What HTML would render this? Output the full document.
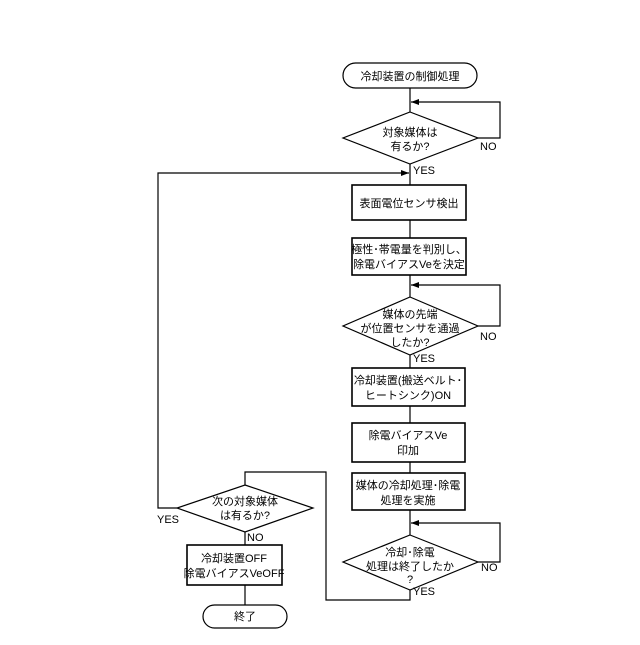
<!DOCTYPE html>
<html><head><meta charset="utf-8"><style>body{margin:0;background:#fff}</style></head><body>
<svg width="640" height="640" viewBox="0 0 640 640" xmlns="http://www.w3.org/2000/svg" font-family="'Liberation Sans','Noto Sans CJK JP',sans-serif" font-size="11" fill="#000">
<defs><marker id="a" markerWidth="8" markerHeight="6" refX="8" refY="3" orient="auto" markerUnits="userSpaceOnUse"><path d="M0,0 L8,3 L0,6 z" fill="#000"/></marker></defs>
<g stroke="#000" stroke-width="1.2" fill="none">
<rect x="343" y="63" width="134" height="25" rx="12.5"/>
<line x1="410" y1="88" x2="410" y2="112"/>
<polygon points="410,112 478,138 410,164 343,138"/>
<polyline points="478,138 500,138 500,102 411,102" marker-end="url(#a)"/>
<line x1="410" y1="164" x2="410" y2="185"/>
<polyline points="177,508 158,508 158,173 409,173" marker-end="url(#a)"/>
<rect x="352" y="185" width="114" height="35" stroke-width="1.6"/>
<line x1="410" y1="220" x2="410" y2="238"/>
<rect x="352" y="238" width="114" height="37" stroke-width="1.6"/>
<line x1="410" y1="275" x2="410" y2="297"/>
<polygon points="410,297 478,326 410,355 343,326"/>
<polyline points="478,326 500,326 500,285 411,285" marker-end="url(#a)"/>
<line x1="410" y1="355" x2="410" y2="368"/>
<rect x="352" y="368" width="113" height="38" stroke-width="1.6"/>
<line x1="410" y1="406" x2="410" y2="423"/>
<rect x="352" y="423" width="113" height="39" stroke-width="1.6"/>
<line x1="410" y1="462" x2="410" y2="473"/>
<rect x="352" y="473" width="113" height="37" stroke-width="1.6"/>
<line x1="410" y1="510" x2="410" y2="535"/>
<polygon points="410,535 478,562 410,590 343,562"/>
<polyline points="478,562 500,562 500,523 411,523" marker-end="url(#a)"/>
<polyline points="410,590 410,600 326,600 326,472 245,472 245,485"/>
<polygon points="245,485 313,508 245,532 177,508"/>
<line x1="245" y1="532" x2="245" y2="545"/>
<rect x="187" y="545" width="95" height="40" stroke-width="1.6"/>
<line x1="245" y1="585" x2="245" y2="605"/>
<rect x="203" y="605" width="84" height="23" rx="11.5"/>
</g>
<g text-anchor="middle">
<text x="410" y="80">冷却装置の制御処理</text>
<text x="410" y="136">対象媒体は</text><text x="410" y="150">有るか?</text>
<text x="409" y="207">表面電位センサ検出</text>
<text x="409" y="253">極性･帯電量を判別し、</text><text x="409" y="268">除電バイアスVeを決定</text>
<text x="410" y="318">媒体の先端</text><text x="410" y="332">が位置センサを通過</text><text x="410" y="346">したか?</text>
<text x="408" y="384">冷却装置(搬送ベルト･</text><text x="408" y="399">ヒートシンク)ON</text>
<text x="408" y="439">除電バイアスVe</text><text x="408" y="454">印加</text>
<text x="408" y="489">媒体の冷却処理･除電</text><text x="408" y="504">処理を実施</text>
<text x="410" y="556">冷却･除電</text><text x="410" y="570">処理は終了したか</text><text x="410" y="583">?</text>
<text x="245" y="505">次の対象媒体</text><text x="245" y="519">は有るか?</text>
<text x="234" y="562">冷却装置OFF</text><text x="234" y="577">除電バイアスVeOFF</text>
<text x="245" y="620">終了</text>
</g>
<text x="480" y="150">NO</text><text x="413" y="174">YES</text>
<text x="480" y="340">NO</text><text x="413" y="362">YES</text>
<text x="481" y="571">NO</text><text x="413" y="595">YES</text>
<text x="157" y="523">YES</text><text x="247" y="541">NO</text>
</svg>
</body></html>
